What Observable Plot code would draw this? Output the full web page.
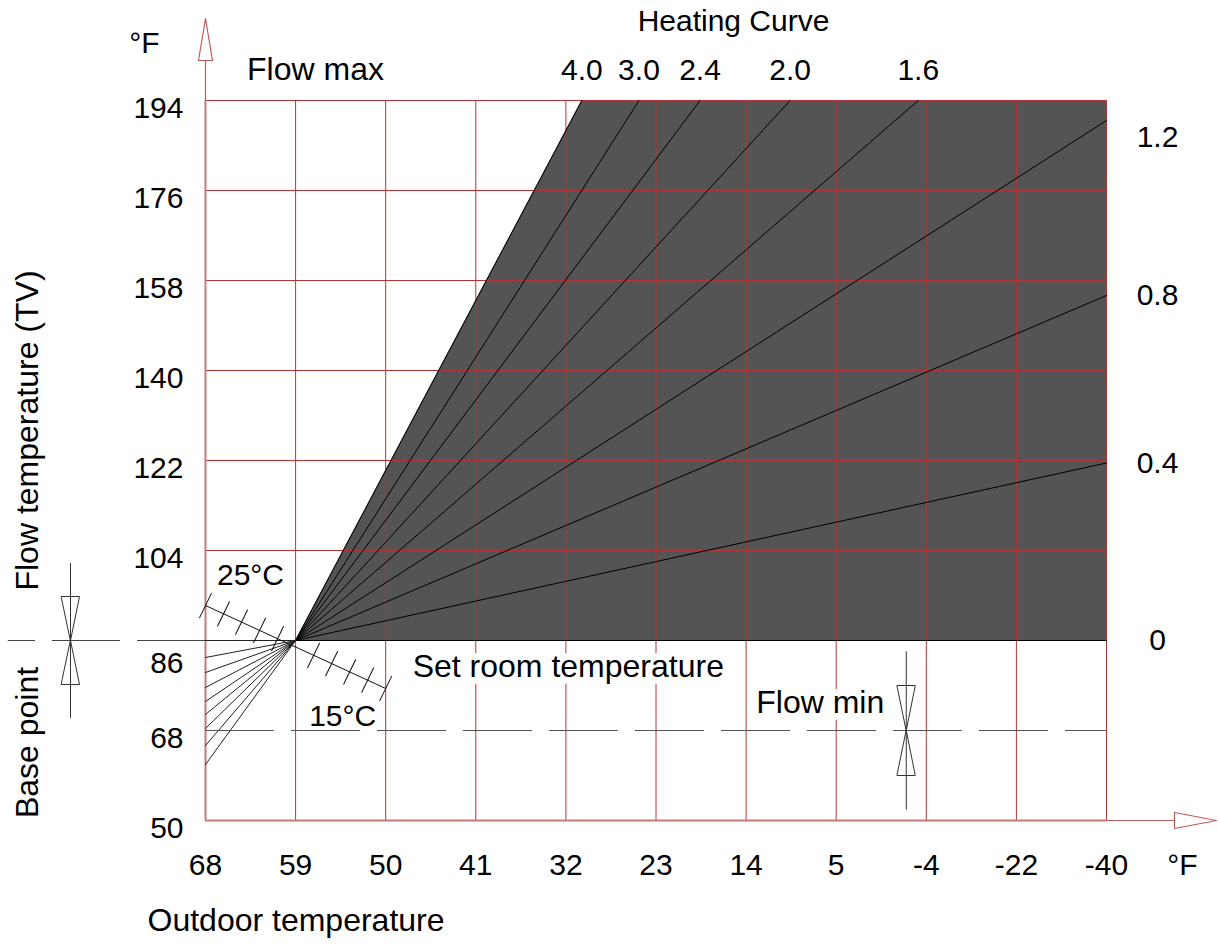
<!DOCTYPE html>
<html>
<head>
<meta charset="utf-8">
<script src="https://cdn.jsdelivr.net/npm/d3@7"></script>
<script src="https://cdn.jsdelivr.net/npm/@observablehq/plot@0.6"></script>
<style>
  html, body { margin: 0; padding: 0; background: #fff; }
  svg { display: block; }
</style>
</head>
<body>
<div id="chart"></div>
<script>
// ---------- data ----------
const outdoorTicks = [68, 59, 50, 41, 32, 23, 14, 5, -4, -22, -40];   // °F, outdoor temperature
const flowTicks = [50, 68, 86, 104, 122, 140, 158, 176, 194];          // °F, flow temperature
const curveNames = ["4.0", "3.0", "2.4", "2.0", "1.6", "1.2", "0.8", "0.4", "0"];
const curveEndOutdoor = [30.4, 24.7, 18.6, 9.6, -3.2, -40, -40, -40, -40];
const curveEndFlow = [194, 194, 194, 194, 194, 190, 155, 121.5, 86];
const curveLeftFlow = [61.2, 65, 68.4, 71.2, 73.8, 76.6, 79.6, 82.6, 86]; // fan at 68 °F outdoor
const baseOutdoor = 59, baseFlow = 86;
const flowMax = 194, flowMin = 68, flowMinOutdoor = -2;
const roomTemps = [25, 24, 23, 22, 21, 19, 18, 17, 16, 15];   // °C, set room temperature scale
const roomEnds = [25, 15];
const roomCenter = 20;
const roomCenterFlow = 84.7;
const leftDashOutdoor = 87.7;

// ---------- layout ----------
const W = 1218, H = 946, ML = 205, MR = 112, MT = 100, MB = 126;
const xRange = outdoorTicks.map((_, i) => ML + i * (W - ML - MR) / (outdoorTicks.length - 1));
const gridRed = "#b23438";
const axisPink = "#c47a7a";
const darkFill = "#545454";
const NUM = 30, WORD = 32;

const roomX = t => baseOutdoor + (t - roomCenter) * 1.8;
const roomY = t => roomCenterFlow + (t - roomCenter) * 1.66;

const curveRows = curveNames.flatMap((c, i) => [
  {curve: c, outdoor: baseOutdoor, flow: baseFlow},
  {curve: c, outdoor: curveEndOutdoor[i], flow: curveEndFlow[i]}
]);
const fanRows = curveNames.flatMap((c, i) => [
  {curve: c, outdoor: 68, flow: curveLeftFlow[i]},
  {curve: c, outdoor: baseOutdoor, flow: baseFlow}
]);
const ends = curveNames.map((c, i) => ({curve: c, outdoor: curveEndOutdoor[i], flow: curveEndFlow[i]}));
const fillRows = [
  {outdoor: baseOutdoor, flow: baseFlow},
  {outdoor: curveEndOutdoor[0], flow: flowMax},
  {outdoor: outdoorTicks[outdoorTicks.length - 1], flow: flowMax}
];

// custom vector shapes
const hourglass = {
  draw(ctx, l, r) {
    const ext = l * 1.75;
    ctx.moveTo(0, -ext); ctx.lineTo(0, ext);
    ctx.moveTo(-r, -l); ctx.lineTo(r, -l); ctx.lineTo(0, 0); ctx.closePath();
    ctx.moveTo(-r, l); ctx.lineTo(r, l); ctx.lineTo(0, 0); ctx.closePath();
  }
};
const axisArrow = {
  draw(ctx, l, r) {
    ctx.moveTo(0, 0); ctx.lineTo(0, -l + 42);
    ctx.moveTo(-r, -l + 42); ctx.lineTo(0, -l); ctx.lineTo(r, -l + 42); ctx.closePath();
  }
};
const stroke1 = {
  draw(ctx, l) { ctx.moveTo(0, 0); ctx.lineTo(0, -l); }
};
const T = {textAnchor: "middle", lineAnchor: "middle"};

const chart = Plot.plot({
  width: W, height: H,
  marginLeft: ML, marginRight: MR, marginTop: MT, marginBottom: MB,
  style: {fontFamily: "'Liberation Sans', Arial, sans-serif", fontSize: NUM + "px", background: "#fff", overflow: "visible", color: "#000"},
  x: {type: "linear", domain: outdoorTicks, range: xRange, axis: null},
  y: {type: "linear", domain: [flowTicks[0], flowTicks[flowTicks.length - 1]], axis: null},
  marks: [
    // dark operating region
    Plot.areaY(fillRows, {x: "outdoor", y1: baseFlow, y2: "flow", fill: darkFill}),
    // grid
    Plot.ruleX(outdoorTicks.slice(1), {y1: flowTicks[0], y2: flowMax, stroke: gridRed, strokeWidth: 1}),
    Plot.ruleY(flowTicks.filter(d => d > flowMin), {x1: 68, x2: -40, stroke: gridRed, strokeWidth: 1}),
    // axes lines
    Plot.ruleX([68], {y1: flowTicks[0], y2: flowMax, stroke: axisPink, strokeWidth: 2}),
    Plot.ruleY([flowTicks[0]], {x1: 68, x2: -40, stroke: axisPink, strokeWidth: 2}),
    // arrows
    Plot.vector([0], {x: () => 68, y: () => flowMax, length: 82, r: 7, rotate: 0, anchor: "start", shape: axisArrow, stroke: "#c05a5a", fill: "none", strokeWidth: 1.2}),
    Plot.vector([0], {x: () => -40, y: () => flowTicks[0], length: 110, r: 8, rotate: 90, anchor: "start", shape: axisArrow, stroke: "#c05a5a", fill: "none", strokeWidth: 1.2}),
    // heating curves
    Plot.line(curveRows, {x: "outdoor", y: "flow", z: "curve", stroke: "#000", strokeWidth: 1}),
    Plot.line(fanRows, {x: "outdoor", y: "flow", z: "curve", stroke: "#222", strokeWidth: 1}),
    // base line (dashed to the left) and flow min dashed line
    Plot.ruleY([baseFlow], {x1: 68, x2: leftDashOutdoor, stroke: "#444", strokeWidth: 1.2, strokeDasharray: "68,17"}),
    Plot.ruleY([flowMin], {x1: 68, x2: -40, stroke: "#555", strokeWidth: 1.2, strokeDasharray: "69,17"}),
    // set room temperature scale
    Plot.line(roomEnds, {x: roomX, y: roomY, stroke: "#111", strokeWidth: 1}),
    Plot.vector(roomTemps, {x: roomX, y: roomY, length: 27, rotate: 26, anchor: "middle", shape: stroke1, stroke: "#111", strokeWidth: 1}),
    // base point & flow min markers
    Plot.vector([baseFlow], {y: d => d, frameAnchor: "left", dx: -135, length: 44, r: 9, anchor: "start", shape: hourglass, stroke: "#333", fill: "none", strokeWidth: 1}),
    Plot.vector([flowMin], {x: () => flowMinOutdoor, y: d => d, length: 45, r: 9, anchor: "start", shape: hourglass, stroke: "#333", fill: "none", strokeWidth: 1}),
    // axes labels (ticks)
    Plot.axisX({ticks: outdoorTicks, tickSize: 0, tickPadding: 33, tickFormat: d => String(d), fontSize: NUM, label: null}),
    Plot.axisY({ticks: flowTicks.filter(d => d !== baseFlow), tickSize: 0, tickPadding: 22, dy: 8, tickFormat: d => String(d), fontSize: NUM, label: null}),
    Plot.axisY({ticks: [baseFlow], tickSize: 0, tickPadding: 22, dy: 23, tickFormat: d => String(d), fontSize: NUM, label: null}),
    // curve labels
    Plot.text(ends.filter(d => d.flow === flowMax), {x: "outdoor", y: "flow", text: "curve", dy: -30, fontSize: NUM, ...T}),
    Plot.text(ends.filter(d => d.flow < flowMax), {x: "outdoor", y: d => Math.min(d.flow, 186.6), text: "curve", dx: 51, fontSize: NUM, ...T}),
    // titles and annotations
    Plot.text(["Heating Curve"], {frameAnchor: "top-left", dx: 528, dy: -79, fontSize: NUM, ...T}),
    Plot.text(["°F"], {frameAnchor: "top-left", dx: -61, dy: -57, fontSize: NUM, ...T}),
    Plot.text(["Flow max"], {frameAnchor: "top-left", dx: 110, dy: -31, fontSize: WORD, ...T}),
    Plot.text(["Flow temperature (TV)"], {frameAnchor: "left", dx: -178, dy: -30, rotate: -90, fontSize: WORD, ...T}),
    Plot.text(["Base point"], {frameAnchor: "left", dx: -178, dy: 282, rotate: -90, fontSize: WORD, ...T}),
    Plot.text(["°F"], {frameAnchor: "bottom-right", dx: 76, dy: 45, fontSize: NUM, ...T}),
    Plot.text(["Outdoor temperature"], {frameAnchor: "bottom-left", dx: -58, dy: 100, fontSize: WORD, textAnchor: "start", lineAnchor: "middle"}),
    Plot.text([roomEnds[0]], {x: roomX, y: roomY, text: d => d + "°C", dx: 45, dy: -30, fontSize: NUM, ...T}),
    Plot.text([roomEnds[1]], {x: roomX, y: roomY, text: d => d + "°C", dx: -43, dy: 28, fontSize: NUM, ...T}),
    Plot.text(["Set room temperature"], {x: () => 50, y: () => baseFlow, dx: 27, dy: 26, textAnchor: "start", lineAnchor: "middle", fontSize: WORD, stroke: "#fff", strokeWidth: 14, fill: "#000"}),
    Plot.text(["Flow min"], {x: () => flowMinOutdoor, y: () => flowMin, dx: -22, dy: -28, textAnchor: "end", lineAnchor: "middle", fontSize: WORD, stroke: "#fff", strokeWidth: 14, fill: "#000"})
  ]
});
document.getElementById("chart").appendChild(chart);
</script>
</body>
</html>
